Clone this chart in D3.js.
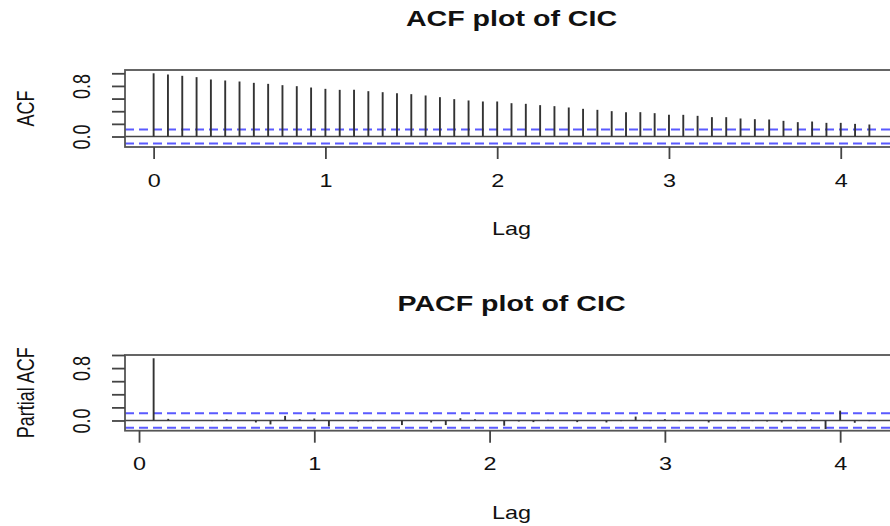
<!DOCTYPE html>
<html>
<head>
<meta charset="utf-8">
<script src="https://cdn.jsdelivr.net/npm/d3@7"></script>
<style>
  html, body { margin: 0; padding: 0; background: #fff; }
  svg { display: block; }
  text { font-family: "Liberation Sans", Arial, Helvetica, sans-serif; fill: #111; }
</style>
</head>
<body>
<svg id="chart" width="890" height="526"></svg>
<script>
// ---------------- data ----------------
const acfLags = d3.range(0, 51).map(k => k / 12);
const acfValues = [
  1.000, 0.981, 0.960, 0.939, 0.902, 0.886, 0.870, 0.849, 0.833, 0.812,
  0.796, 0.775, 0.754, 0.738, 0.738, 0.717, 0.701, 0.686, 0.670, 0.649,
  0.622, 0.591, 0.570, 0.554, 0.554, 0.527, 0.517, 0.496, 0.480, 0.459,
  0.438, 0.422, 0.401, 0.385, 0.385, 0.369, 0.343, 0.343, 0.327, 0.306,
  0.306, 0.285, 0.274, 0.269, 0.248, 0.227, 0.237, 0.216, 0.216, 0.200,
  0.190
];
const pacfLags = d3.range(1, 51).map(k => k / 12);
const pacfValues = [
  0.950, 0.025, 0.000, 0.000, -0.010, 0.020, 0.000, -0.030, -0.060, 0.070,
  0.020, 0.030, -0.090, 0.000, -0.015, -0.010, 0.000, -0.070, 0.000, -0.030,
  -0.070, 0.035, 0.020, -0.005, -0.080, -0.015, -0.025, 0.010, 0.000, -0.025,
  0.000, -0.030, -0.010, 0.060, -0.010, 0.020, -0.010, 0.000, -0.030, 0.000,
  -0.010, -0.010, -0.015, -0.030, -0.010, 0.020, -0.130, 0.150, -0.035, -0.010
];
const confLimit = 0.11;
const xTickValues = [0, 1, 2, 3, 4];
const yTickValues = [0, 0.2, 0.4, 0.6, 0.8, 1.0];
const yLabelValues = [0, 0.8];
const titles = ["ACF plot of CIC", "PACF plot of CIC"];
const yTitles = ["ACF", "Partial ACF"];
const xTitle = "Lag";

// ---------------- layout ----------------
const svg = d3.select("#chart");
const STRETCH = 1.3;
const plotLeft = 125, plotRight = 898;

const panels = [
  { lags: acfLags, values: acfValues, title: titles[0], ytitle: yTitles[0],
    top: 70, bottom: 147, xdom: [-1/6, 4 + 1/3], ydom: [-0.166, 1.052] },
  { lags: pacfLags, values: pacfValues, title: titles[1], ytitle: yTitles[1],
    top: 355, bottom: 430.7, xdom: [-0.08, 4.33], ydom: [-0.156, 1.0] }
];

panels.forEach(p => {
  const g = svg.append("g");
  const x = d3.scaleLinear().domain(p.xdom).range([plotLeft, plotRight]);
  const y = d3.scaleLinear().domain(p.ydom).range([p.bottom, p.top]);

  // zero line
  g.append("line")
    .attr("x1", plotLeft).attr("x2", plotRight)
    .attr("y1", y(0)).attr("y2", y(0))
    .attr("stroke", "#444").attr("stroke-width", 1.7);

  // confidence lines
  [confLimit, -confLimit].forEach(c => {
    g.append("line")
      .attr("x1", plotLeft).attr("x2", plotRight)
      .attr("y1", y(c)).attr("y2", y(c))
      .attr("stroke", "#5a5aff").attr("stroke-width", 1.9)
      .attr("stroke-dasharray", "9,5");
  });

  // spikes
  g.selectAll("line.spike").data(p.values).enter().append("line")
    .attr("class", "spike")
    .attr("x1", (d, i) => x(p.lags[i])).attr("x2", (d, i) => x(p.lags[i]))
    .attr("y1", y(0)).attr("y2", d => y(d))
    .attr("stroke", "#333").attr("stroke-width", 1.9);

  // box
  g.append("rect")
    .attr("x", plotLeft).attr("y", p.top)
    .attr("width", plotRight - plotLeft).attr("height", p.bottom - p.top)
    .attr("fill", "none").attr("stroke", "#555").attr("stroke-width", 1.8);

  // x axis
  const xa = g.append("g").attr("transform", `translate(0,${p.bottom})`)
    .call(d3.axisBottom(x).tickValues(xTickValues).tickSize(12).tickFormat(d3.format("d")));
  xa.select(".domain").remove();
  xa.selectAll(".tick line").attr("stroke", "#444").attr("stroke-width", 1.8);
  xa.selectAll(".tick text")
    .attr("y", null).attr("dy", null)
    .attr("transform", `translate(0,39.5) scale(${STRETCH},1)`)
    .attr("font-size", 18).attr("fill", "#111")
    .attr("font-family", "Liberation Sans, Arial, sans-serif");

  // y axis
  const ya = g.append("g").attr("transform", `translate(${plotLeft},0)`)
    .call(d3.axisLeft(y).tickValues(yTickValues).tickSize(13)
      .tickFormat(d => yLabelValues.some(v => Math.abs(v - d) < 1e-9) ? d3.format(".1f")(d) : ""));
  ya.select(".domain").remove();
  ya.selectAll(".tick line").attr("stroke", "#444").attr("stroke-width", 1.8);
  ya.selectAll(".tick text")
    .attr("x", null).attr("dy", null)
    .attr("text-anchor", "middle")
    .attr("transform", `translate(-35,0) scale(${STRETCH},1) rotate(-90)`)
    .attr("font-size", 18).attr("fill", "#111")
    .attr("font-family", "Liberation Sans, Arial, sans-serif");

  // titles
  const cx = (plotLeft + plotRight) / 2;
  svg.append("text")
    .attr("transform", `translate(${cx},${p.top - 44}) scale(${STRETCH},1)`)
    .attr("text-anchor", "middle").attr("font-size", 22).attr("font-weight", "bold")
    .text(p.title);

  svg.append("text")
    .attr("transform", `translate(${cx},${p.bottom + 88}) scale(${STRETCH},1)`)
    .attr("text-anchor", "middle").attr("font-size", 18)
    .text(xTitle);

  svg.append("text")
    .attr("transform", `translate(34,${(p.top + p.bottom) / 2}) scale(${STRETCH},1) rotate(-90)`)
    .attr("text-anchor", "middle").attr("font-size", 18)
    .text(p.ytitle);
});
</script>
</body>
</html>
